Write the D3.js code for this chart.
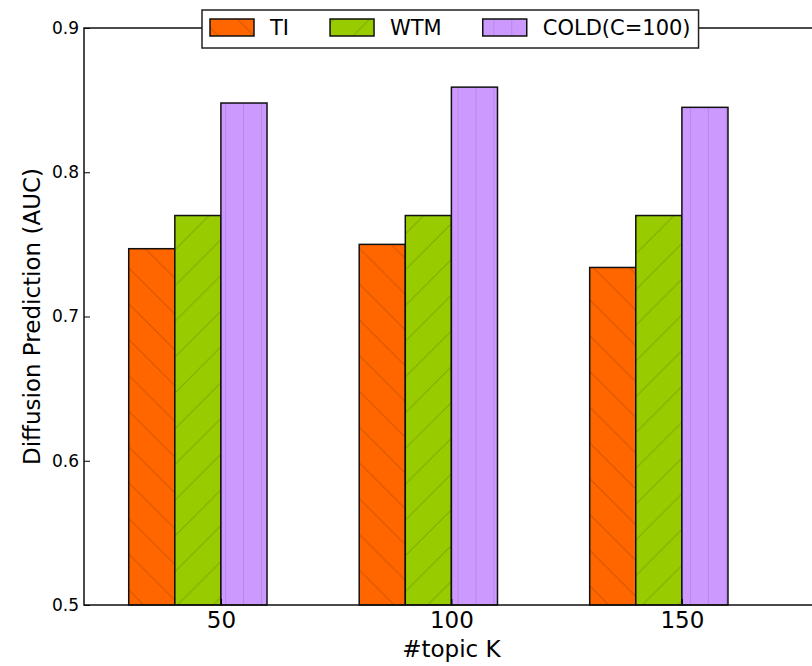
<!DOCTYPE html>
<html>
<head>
<meta charset="utf-8">
<script src="https://cdn.jsdelivr.net/npm/d3@7"></script>
<style>
  body { margin: 0; background: #fff; }
  svg { display: block; }
  text { font-family: "DejaVu Sans", "Liberation Sans", sans-serif; fill: #000; }
</style>
</head>
<body>
<svg id="chart" width="812" height="666"></svg>
<script>
// Diffusion prediction AUC per number of topics
const categories = ["50", "100", "150"];
const seriesNames = ["TI", "WTM", "COLD(C=100)"];
const tiValues = [0.747, 0.750, 0.734];
const wtmValues = [0.770, 0.770, 0.770];
const coldValues = [0.848, 0.859, 0.845];
const yTicks = [0.5, 0.6, 0.7, 0.8, 0.9];
const yTickLabels = ["0.5", "0.6", "0.7", "0.8", "0.9"];

const series = [
  { name: seriesNames[0], values: tiValues, fill: "#ff6600", hatch: "hatch-back" },
  { name: seriesNames[1], values: wtmValues, fill: "#99cc00", hatch: "hatch-fwd" },
  { name: seriesNames[2], values: coldValues, fill: "#cc99ff", hatch: "hatch-vert" }
];

const svg = d3.select("#chart");
const W = 812, H = 666;
const plot = { left: 84, top: 28, bottom: 605 };
const barW = 0.2;

// x in category-index units: group i occupies [i-0.4, i+0.2], tick at i
const x = d3.scaleLinear().domain([-0.594, 2.594]).range([plot.left, 818.8]);
const y = d3.scaleLinear().domain([0.5, 0.9]).range([plot.bottom, plot.top]);

// hatch patterns (user space so lines continue across adjacent bars)
const defs = svg.append("defs");
const P = 35.76;
const hatchStroke = "rgba(0,0,0,0.17)";
const back = defs.append("pattern").attr("id", "hatch-back")
  .attr("patternUnits", "userSpaceOnUse").attr("width", P).attr("height", P)
  .attr("patternTransform", "translate(0,32)");
back.append("path")
  .attr("d", `M0,0L${P},${P}M${-P/2},${P/2}L${P/2},${1.5*P}M${P/2},${-P/2}L${1.5*P},${P/2}`)
  .attr("stroke", hatchStroke).attr("stroke-width", 1);
const fwd = defs.append("pattern").attr("id", "hatch-fwd")
  .attr("patternUnits", "userSpaceOnUse").attr("width", P).attr("height", P)
  .attr("patternTransform", "translate(0,31.4)");
fwd.append("path")
  .attr("d", `M0,${P}L${P},0M${-P/2},${P/2}L${P/2},${-P/2}M${P/2},${1.5*P}L${1.5*P},${P/2}`)
  .attr("stroke", hatchStroke).attr("stroke-width", 1);
const V = 17.88;
const vert = defs.append("pattern").attr("id", "hatch-vert")
  .attr("patternUnits", "userSpaceOnUse").attr("width", V).attr("height", 20)
  .attr("patternTransform", "translate(10.6,0)");
vert.append("path").attr("d", `M0,0V20`)
  .attr("stroke", hatchStroke).attr("stroke-width", 1.2);

// bars
const offsets = [-2 * barW, -barW, 0];
series.forEach((s, si) => {
  const g = svg.append("g").attr("class", "series");
  const data = s.values.map((v, i) => ({ v, i }));
  g.selectAll("rect.fill").data(data).join("rect")
    .attr("x", d => x(d.i + offsets[si]))
    .attr("width", d => x(d.i + offsets[si] + barW) - x(d.i + offsets[si]))
    .attr("y", d => y(d.v))
    .attr("height", d => y(0.5) - y(d.v))
    .attr("fill", s.fill);
  g.selectAll("rect.hatch").data(data).join("rect")
    .attr("x", d => x(d.i + offsets[si]))
    .attr("width", d => x(d.i + offsets[si] + barW) - x(d.i + offsets[si]))
    .attr("y", d => y(d.v))
    .attr("height", d => y(0.5) - y(d.v))
    .attr("fill", `url(#${s.hatch})`)
    .attr("stroke", "#111").attr("stroke-width", 1.5);
});

// axes (ticks point inward)
const yAxis = d3.axisLeft(y).tickValues(yTicks)
  .tickFormat((d, i) => yTickLabels[i]).tickSize(-6).tickPadding(5);
const gy = svg.append("g").attr("transform", `translate(${plot.left},0)`).call(yAxis);
gy.select(".domain").remove();
gy.selectAll("line").attr("stroke", "#000").attr("stroke-width", 1);
gy.selectAll("text").style("font-size", "17px").style("font-family", "DejaVu Sans");

const xAxis = d3.axisBottom(x).tickValues([0, 1, 2])
  .tickFormat((d, i) => categories[i]).tickSize(-6).tickPadding(7);
const gx = svg.append("g").attr("transform", `translate(0,${plot.bottom})`).call(xAxis);
gx.select(".domain").remove();
gx.selectAll("line").attr("stroke", "#000").attr("stroke-width", 1);
gx.selectAll("text").style("font-size", "23px").style("font-family", "DejaVu Sans");

// spines
const spine = svg.append("g").attr("fill", "none").attr("stroke", "#111").attr("stroke-width", 1.5);
spine.append("path").attr("d", `M${x.range()[1]},${plot.top}H${plot.left}V${plot.bottom}H${x.range()[1]}V${plot.top}`);

// axis titles
svg.append("text")
  .attr("x", (plot.left + x.range()[1]) / 2).attr("y", 657)
  .attr("text-anchor", "middle").style("font-size", "23px")
  .text("#topic K");
svg.append("text")
  .attr("transform", `translate(40,${(plot.top + plot.bottom) / 2}) rotate(-90)`)
  .attr("text-anchor", "middle").style("font-size", "23px")
  .text("Diffusion Prediction (AUC)");

// legend
const legend = svg.append("g");
const box = legend.append("rect")
  .attr("fill", "#fff").attr("stroke", "#222").attr("stroke-width", 1.5);
let cx = 210;
series.forEach(s => {
  const item = legend.append("g");
  item.append("rect").attr("x", cx).attr("y", 19).attr("width", 44).attr("height", 17)
    .attr("fill", s.fill);
  item.append("rect").attr("x", cx).attr("y", 19).attr("width", 44).attr("height", 17)
    .attr("fill", `url(#${s.hatch})`).attr("stroke", "#111").attr("stroke-width", 1.5);
  const t = item.append("text").attr("x", cx + 60).attr("y", 35)
    .style("font-size", "21px").text(s.name);
  cx += 60 + t.node().getComputedTextLength() + 41;
});
box.attr("x", 202).attr("y", 10).attr("width", cx - 41 + 8 - 202).attr("height", 38);
</script>
</body>
</html>
